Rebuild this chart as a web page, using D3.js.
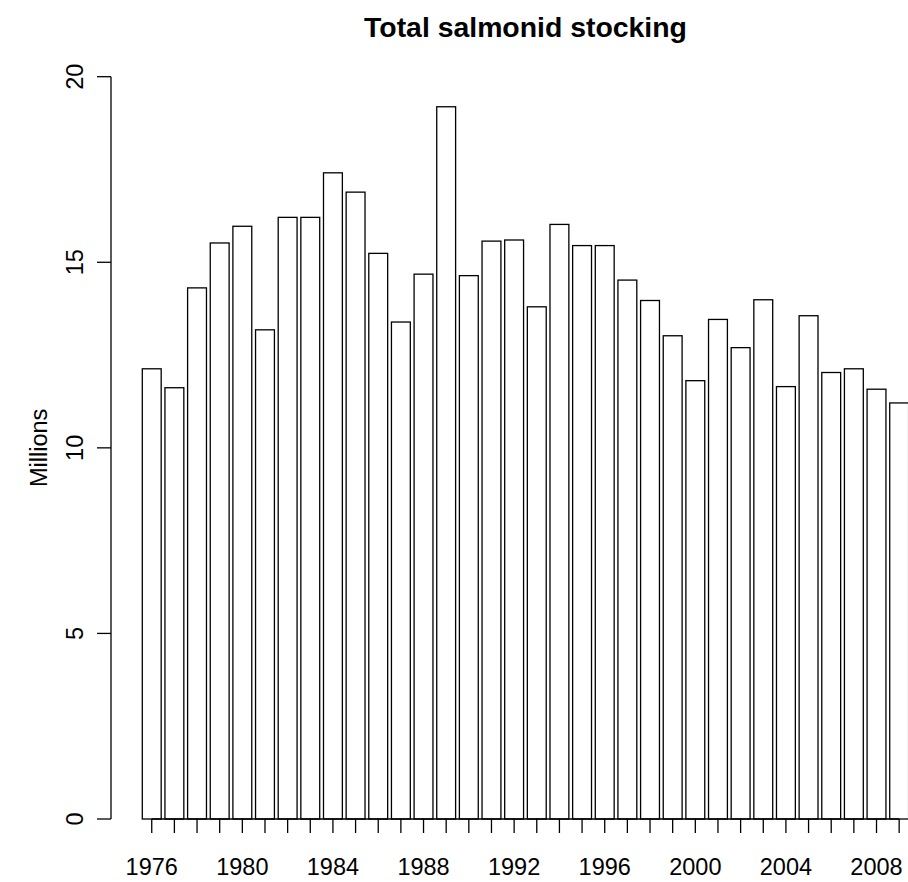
<!DOCTYPE html>
<html>
<head>
<meta charset="utf-8">
<script src="https://cdn.jsdelivr.net/npm/d3@7/dist/d3.min.js"></script>
<style>
  html, body { margin: 0; padding: 0; background: #fff; }
  svg { display: block; }
  text { font-family: "Liberation Sans", Arial, sans-serif; fill: #000; }
</style>
</head>
<body>
<script>
const years = [1976,1977,1978,1979,1980,1981,1982,1983,1984,1985,1986,1987,1988,1989,1990,1991,1992,
               1993,1994,1995,1996,1997,1998,1999,2000,2001,2002,2003,2004,2005,2006,2007,2008,2009];
const stocking = [12.13,11.62,14.31,15.52,15.97,13.18,16.21,16.21,17.41,16.89,15.24,13.39,14.68,19.19,14.64,15.57,15.60,
                  13.80,16.02,15.45,15.45,14.52,13.97,13.02,11.81,13.46,12.70,13.99,11.65,13.56,12.03,12.13,11.58,11.21];
const yTicks = [0,5,10,15,20];
const labelYears = [1976,1980,1984,1988,1992,1996,2000,2004,2008];
const title = "Total salmonid stocking";
const yLabel = "Millions";

const W = 908, H = 882;
const svg = d3.select("body").append("svg").attr("width", W).attr("height", H);

const x = d3.scaleBand().domain(years).range([142.3, 908.6]).paddingInner(1/6).paddingOuter(0);
const y = d3.scaleLinear().domain([0, 20]).range([819, 76.7]);

const lw = 1.3;

// bars
svg.append("g").selectAll("rect").data(years).join("rect")
  .attr("x", d => x(d))
  .attr("y", (d, i) => y(stocking[i]))
  .attr("width", x.bandwidth())
  .attr("height", (d, i) => y(0) - y(stocking[i]))
  .attr("fill", "#fff").attr("stroke", "#000").attr("stroke-width", lw);

// x axis
const xc = d => x(d) + x.bandwidth() / 2;
const gx = svg.append("g");
gx.append("line").attr("x1", xc(years[0])).attr("x2", xc(years[years.length-1]))
  .attr("y1", y(0)).attr("y2", y(0)).attr("stroke", "#000").attr("stroke-width", lw);
gx.selectAll("line.t").data(years).join("line").attr("class","t")
  .attr("x1", xc).attr("x2", xc).attr("y1", y(0)).attr("y2", y(0) + 14)
  .attr("stroke", "#000").attr("stroke-width", lw);
gx.selectAll("text").data(labelYears).join("text")
  .attr("x", xc).attr("y", 875).attr("text-anchor", "middle")
  .attr("font-size", 23.5).text(d => d);

// y axis
const gy = svg.append("g");
gy.append("line").attr("x1", 111).attr("x2", 111).attr("y1", y(0)).attr("y2", y(20))
  .attr("stroke", "#000").attr("stroke-width", lw);
gy.selectAll("line.t").data(yTicks).join("line").attr("class","t")
  .attr("x1", 97).attr("x2", 111).attr("y1", d => y(d)).attr("y2", d => y(d))
  .attr("stroke", "#000").attr("stroke-width", lw);
gy.selectAll("text").data(yTicks).join("text")
  .attr("transform", d => `translate(82.5,${y(d)}) rotate(-90)`)
  .attr("text-anchor", "middle").attr("font-size", 23.5).text(d => d);

// y label
svg.append("text").attr("transform", `translate(47,${(y(0)+y(20))/2}) rotate(-90)`)
  .attr("text-anchor", "middle").attr("font-size", 23.5).text(yLabel);

// title
svg.append("text").attr("x", 525.5).attr("y", 37).attr("text-anchor", "middle")
  .attr("font-size", 28.4).attr("font-weight", "bold").text(title);
</script>
</body>
</html>
